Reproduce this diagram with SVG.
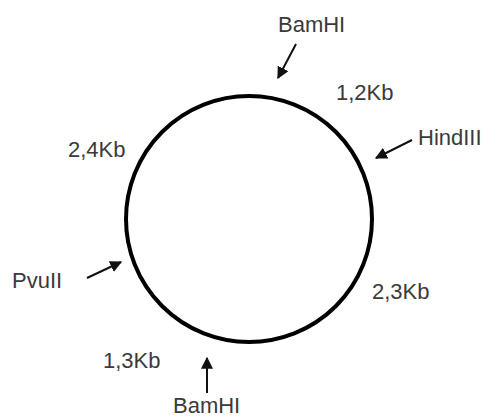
<svg xmlns="http://www.w3.org/2000/svg" width="483" height="420" viewBox="0 0 483 420">
<style>
text{font-family:"Liberation Sans",Arial,sans-serif;font-size:22px;fill:#3a3a3a}
.c{fill:none;stroke:#000;stroke-width:4}
.a{stroke:#111;stroke-width:2;fill:none;marker-end:url(#ah)}
</style>
<defs>
<marker id="ah" viewBox="0 0 10 10" refX="9" refY="5" markerWidth="6" markerHeight="6" markerUnits="strokeWidth" orient="auto">
<path d="M0,0 L10,5 L0,10 z" fill="#111"/>
</marker>
</defs>
<rect width="483" height="420" fill="#fff"/>
<g id="plasmid"><circle class="c" cx="249" cy="219" r="123"/></g>
<g id="connectors">
<line class="a" x1="296" y1="44" x2="278" y2="78"/>
<line class="a" x1="412" y1="140" x2="376" y2="158"/>
<line class="a" x1="87" y1="278" x2="121" y2="262"/>
<line class="a" x1="207" y1="393" x2="207" y2="358"/>
</g>
<g id="bamhi-top"><text x="278" y="32">BamHI</text></g>
<g id="seg-1-2"><text x="336" y="100">1,2Kb</text></g>
<g id="hindiii"><text x="418" y="145">HindIII</text></g>
<g id="seg-2-4"><text x="68" y="157">2,4Kb</text></g>
<g id="pvuii"><text x="12" y="288">PvuII</text></g>
<g id="seg-2-3"><text x="372" y="299">2,3Kb</text></g>
<g id="seg-1-3"><text x="103" y="368">1,3Kb</text></g>
<g id="bamhi-bottom"><text x="173" y="413">BamHI</text></g>
</svg>
